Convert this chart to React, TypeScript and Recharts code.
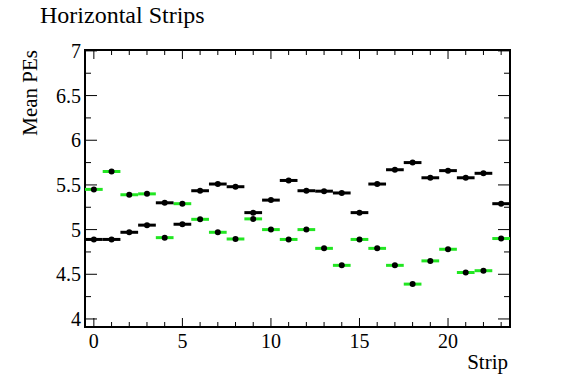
import { ScatterChart, Scatter, XAxis, YAxis, ErrorBar, ReferenceArea, Label } from "recharts";

const strips = [0, 1, 2, 3, 4, 5, 6, 7, 8, 9, 10, 11, 12, 13, 14, 15, 16, 17, 18, 19, 20, 21, 22, 23];
const blackMeans = [4.89, 4.89, 4.97, 5.05, 5.3, 5.06, 5.435, 5.51, 5.48, 5.19, 5.33, 5.55, 5.435, 5.43, 5.41, 5.19, 5.51, 5.67, 5.75, 5.58, 5.66, 5.58, 5.63, 5.29];
const greenMeans = [5.45, 5.65, 5.39, 5.4, 4.91, 5.29, 5.115, 4.97, 4.895, 5.12, 5.0, 4.89, 5.0, 4.79, 4.6, 4.89, 4.79, 4.6, 4.39, 4.65, 4.78, 4.52, 4.54, 4.9];
const binHalfWidth = 0.5;

const xMajorTicks = [0, 5, 10, 15, 20];
const xTicks = [0, 1, 2, 3, 4, 5, 6, 7, 8, 9, 10, 11, 12, 13, 14, 15, 16, 17, 18, 19, 20, 21, 22, 23];
const yMajorTicks = [4, 4.5, 5, 5.5, 6, 6.5, 7];
const yTicks = [4, 4.25, 4.5, 4.75, 5, 5.25, 5.5, 5.75, 6, 6.25, 6.5, 6.75, 7];

const X_DOMAIN: [number, number] = [-0.5, 23.5];
const Y_DOMAIN: [number, number] = [3.91, 7.01];

const W = 567;
const H = 384;
const margin = { top: 50, right: 57, bottom: 12, left: 45 };
const Y_AXIS_W = 40;
const X_AXIS_H = 45;
const PLOT_W = W - margin.left - margin.right - Y_AXIS_W;
const PLOT_H = H - margin.top - margin.bottom - X_AXIS_H;

const FONT = "Liberation Serif";

const blackData = strips.map((s, i) => ({ strip: s, mean: blackMeans[i], ex: binHalfWidth }));
const greenData = strips.map((s, i) => ({ strip: s, mean: greenMeans[i], ex: binHalfWidth }));

const Dot = (p: any) => <circle cx={p.cx} cy={p.cy} r={3} fill="#000" />;

const YTick = ({ x, y, payload }: any) => {
  const major = yMajorTicks.includes(payload.value);
  const len = major ? 12 : 6;
  return (
    <g>
      <line x1={x} x2={x + len} y1={y} y2={y} stroke="#000" strokeWidth={1} />
      <line x1={x + PLOT_W} x2={x + PLOT_W - len} y1={y} y2={y} stroke="#000" strokeWidth={1} />
      {major && (
        <text x={x - 4} y={y + 7} textAnchor="end" fill="#000" style={{ fontFamily: FONT, fontSize: 20 }}>
          {String(payload.value)}
        </text>
      )}
    </g>
  );
};

const XTick = ({ x, y, payload }: any) => {
  const major = xMajorTicks.includes(payload.value);
  const len = major ? 9 : 5;
  return (
    <g>
      <line x1={x} x2={x} y1={y} y2={y - len} stroke="#000" strokeWidth={1} />
      <line x1={x} x2={x} y1={y - PLOT_H} y2={y - PLOT_H + len} stroke="#000" strokeWidth={1} />
      {major && (
        <text x={x} y={y + 21} textAnchor="middle" fill="#000" style={{ fontFamily: FONT, fontSize: 20 }}>
          {String(payload.value)}
        </text>
      )}
    </g>
  );
};

export default function App() {
  return (
    <div style={{ position: "absolute", left: 0, top: 0, width: W, height: H, background: "#fff" }}>
      <div
        style={{
          position: "absolute",
          left: 40,
          top: 2,
          fontFamily: FONT,
          fontSize: 24,
          color: "#000",
          whiteSpace: "nowrap",
        }}
      >
        Horizontal Strips
      </div>
      <ScatterChart width={W} height={H} margin={margin}>
        <XAxis
          type="number"
          dataKey="strip"
          domain={X_DOMAIN}
          allowDataOverflow
          ticks={xTicks}
          interval={0}
          tick={<XTick />}
          tickLine={false}
          tickSize={0}
          tickMargin={0}
          axisLine={false}
          height={X_AXIS_H}
        >
          <Label
            content={({ viewBox }: any) => (
              <text
                x={viewBox.x + viewBox.width - 2}
                y={viewBox.y + 42}
                textAnchor="end"
                fill="#000"
                style={{ fontFamily: FONT, fontSize: 21 }}
              >
                Strip
              </text>
            )}
          />
        </XAxis>
        <YAxis
          type="number"
          dataKey="mean"
          domain={Y_DOMAIN}
          allowDataOverflow
          ticks={yTicks}
          interval={0}
          tick={<YTick />}
          tickLine={false}
          tickSize={0}
          tickMargin={0}
          axisLine={false}
          width={Y_AXIS_W}
        >
          <Label
            content={({ viewBox }: any) => (
              <text
                transform={`translate(${viewBox.x - 8}, ${viewBox.y}) rotate(-90)`}
                textAnchor="end"
                fill="#000"
                style={{ fontFamily: FONT, fontSize: 21 }}
              >
                Mean PEs
              </text>
            )}
          />
        </YAxis>
        <ReferenceArea
          x1={X_DOMAIN[0]}
          x2={X_DOMAIN[1]}
          y1={Y_DOMAIN[0]}
          y2={Y_DOMAIN[1]}
          fill="none"
          stroke="#000"
          strokeWidth={2}
          fillOpacity={0}
        />
        <Scatter data={greenData} shape={Dot} isAnimationActive={false}>
          <ErrorBar dataKey="ex" direction="x" width={0} stroke="#22e622" strokeWidth={3} />
        </Scatter>
        <Scatter data={blackData} shape={Dot} isAnimationActive={false}>
          <ErrorBar dataKey="ex" direction="x" width={0} stroke="#000" strokeWidth={3} />
        </Scatter>
      </ScatterChart>
    </div>
  );
}
